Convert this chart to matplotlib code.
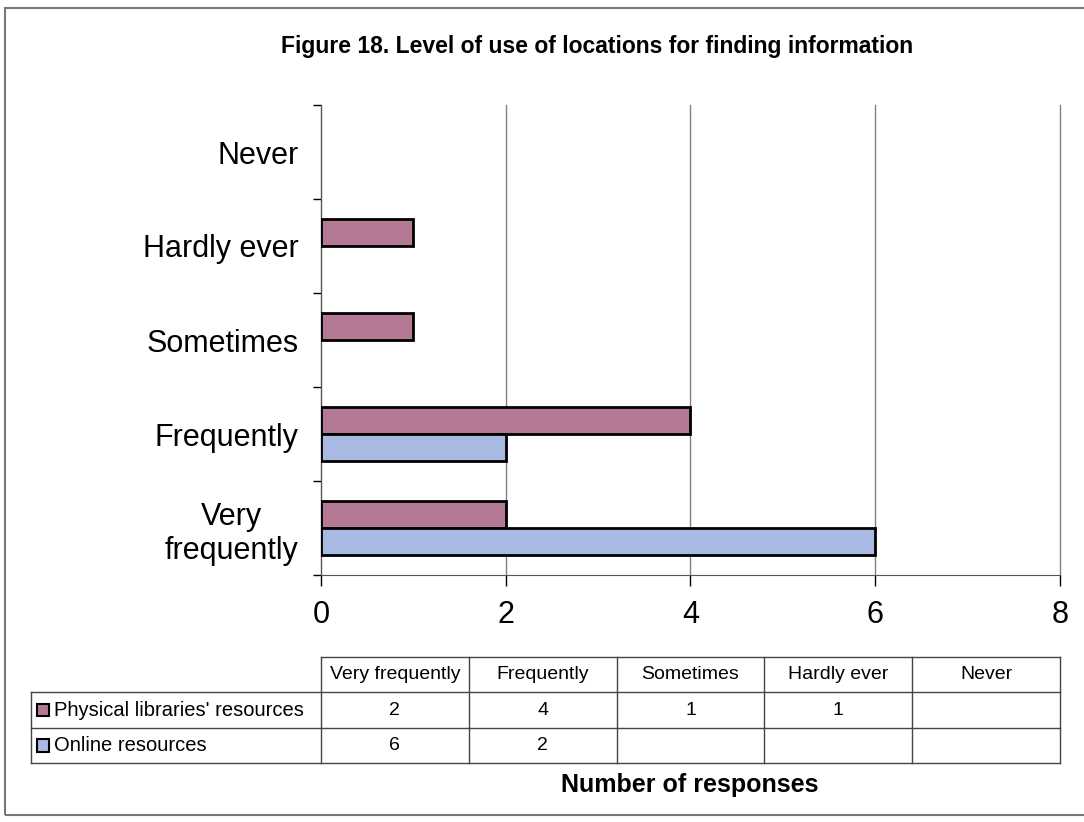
import matplotlib.pyplot as plt
import matplotlib.patches as patches
import numpy as np

# data
categories = ["Very\nfrequently", "Frequently", "Sometimes", "Hardly ever", "Never"]
table_cols = ["Very frequently", "Frequently", "Sometimes", "Hardly ever", "Never"]
series_names = ["Physical libraries' resources", "Online resources"]
physical = [2, 4, 1, 1, None]
online = [6, 2, None, None, None]

pink = "#B47A95"
blue = "#A9BAE2"

plt.rcParams['font.family'] = ['Liberation Sans', 'DejaVu Sans']

W, H = 1084, 822
fig = plt.figure(figsize=(W / 100, H / 100), dpi=100)

def fx(px):
    return px / W

def fy(py):
    return 1 - py / H

# outer frame
fig.patches.append(patches.Rectangle((fx(5), fy(815)), fx(1100) - fx(5), fy(8) - fy(815),
                                     transform=fig.transFigure, fill=False,
                                     edgecolor="#777777", linewidth=1.5))

fig.text(fx(597), fy(47), "Figure 18. Level of use of locations for finding information",
         ha="center", va="center", fontsize=16.5, fontweight="bold")

# main axes
ax = fig.add_axes([fx(321), fy(575), fx(1060) - fx(321), fy(105) - fy(575)])
y = np.arange(len(categories))
bh = 0.29
for vals, off, col in [(physical, bh / 2, pink), (online, -bh / 2, blue)]:
    idx = [i for i, v in enumerate(vals) if v is not None]
    ax.barh(y[idx] + off, [vals[i] for i in idx], height=bh, color=col,
            edgecolor="black", linewidth=2, zorder=3)

ax.set_xlim(0, 8)
ax.set_ylim(-0.5, len(categories) - 0.5)
ax.set_xticks([0, 2, 4, 6, 8])
ax.set_yticks(y)
ax.set_yticklabels(categories, fontsize=22, multialignment="center")
ax.set_yticks(np.arange(-0.5, len(categories), 1), minor=True)
ax.tick_params(axis="y", which="major", length=0, pad=16)
ax.tick_params(axis="y", which="minor", length=6, width=1, direction="out")
ax.tick_params(axis="x", length=8, width=1, direction="out", pad=10, labelsize=22)
ax.grid(axis="x", color="#808080", linewidth=1, zorder=0)
for gl in ax.get_xgridlines():
    gl.set_clip_on(False)
for s in ["top", "right"]:
    ax.spines[s].set_visible(False)
ax.spines["left"].set_color("#555555")
ax.spines["bottom"].set_color("#555555")

# data table below the axes, sharing the x scale
left_units = (321 - 31) / (1060 - 321) * 8
tab = fig.add_axes([fx(31), fy(763), fx(1060) - fx(31), fy(657) - fy(763)])
tab.set_xlim(-left_units, 8)
tab.set_ylim(3, 0)
tab.axis("off")
colw = 8 / len(table_cols)
lc = "#444444"
lines = [tab.plot([0, 8], [0, 0], color=lc, lw=1)]
for r in [1, 2, 3]:
    lines.append(tab.plot([-left_units, 8], [r, r], color=lc, lw=1))
lines.append(tab.plot([-left_units, -left_units], [1, 3], color=lc, lw=1))
for i in range(len(table_cols) + 1):
    lines.append(tab.plot([i * colw, i * colw], [0, 3], color=lc, lw=1))
for ln in lines:
    ln[0].set_clip_on(False)
for i, c in enumerate(table_cols):
    tab.text(i * colw + colw / 2, 0.5, c, ha="center", va="center", fontsize=14)
for r, (name, vals, col) in enumerate(zip(series_names, [physical, online], [pink, blue])):
    tab.add_patch(patches.Rectangle((-left_units + 0.06, r + 1.32), 0.13, 0.36,
                                    facecolor=col, edgecolor="black", lw=1.5))
    tab.text(-left_units + 0.25, r + 1.5, name, ha="left", va="center", fontsize=14.5)
    for i, v in enumerate(vals):
        if v is not None:
            tab.text(i * colw + colw / 2, r + 1.5, str(v), ha="center", va="center",
                     fontsize=14)

fig.text(fx(690), fy(785), "Number of responses", ha="center", va="center",
         fontsize=18, fontweight="bold")

fig.savefig("out.png", dpi=100)
